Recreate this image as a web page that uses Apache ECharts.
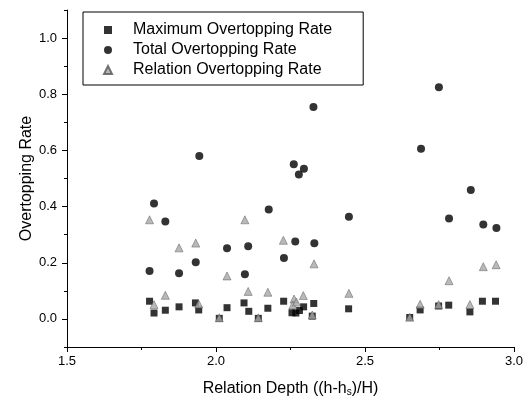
<!DOCTYPE html>
<html>
<head>
<meta charset="utf-8">
<script src="https://cdn.jsdelivr.net/npm/echarts@6/dist/echarts.min.js"></script>
<style>html,body{margin:0;padding:0;background:#fff;}#c{width:527px;height:401px;}</style>
</head>
<body>
<div id="c"></div>
<script>
const seriesNames = ['Maximum Overtopping Rate', 'Total Overtopping Rate', 'Relation Overtopping Rate'];

const maxX = [1.777, 1.792, 1.830, 1.876, 1.931, 1.942, 2.011, 2.037, 2.094, 2.110, 2.142, 2.174, 2.227, 2.255, 2.268, 2.280, 2.294, 2.328, 2.323, 2.445, 2.650, 2.685, 2.747, 2.781, 2.852, 2.894, 2.938];
const maxY = [0.063, 0.021, 0.031, 0.043, 0.057, 0.032, 0.002, 0.040, 0.057, 0.027, 0.002, 0.038, 0.063, 0.022, 0.021, 0.030, 0.043, 0.055, 0.010, 0.036, 0.005, 0.032, 0.046, 0.049, 0.025, 0.063, 0.063];

const totX = [1.777, 1.792, 1.830, 1.876, 1.932, 1.944, 2.037, 2.097, 2.108, 2.177, 2.228, 2.261, 2.266, 2.278, 2.295, 2.327, 2.330, 2.446, 2.688, 2.748, 2.782, 2.855, 2.897, 2.941];
const totY = [0.171, 0.411, 0.347, 0.163, 0.202, 0.580, 0.252, 0.159, 0.259, 0.390, 0.217, 0.551, 0.276, 0.514, 0.535, 0.755, 0.269, 0.364, 0.606, 0.825, 0.358, 0.459, 0.336, 0.324];

const relX = [1.777, 1.792, 1.830, 1.876, 1.932, 1.942, 2.011, 2.037, 2.097, 2.108, 2.142, 2.174, 2.226, 2.262, 2.258, 2.270, 2.293, 2.329, 2.323, 2.446, 2.650, 2.685, 2.747, 2.782, 2.852, 2.897, 2.940];
const relY = [0.353, 0.051, 0.084, 0.253, 0.270, 0.053, 0.004, 0.153, 0.353, 0.098, 0.004, 0.095, 0.280, 0.071, 0.050, 0.060, 0.083, 0.196, 0.014, 0.091, 0.006, 0.052, 0.051, 0.136, 0.051, 0.186, 0.193];

const yMajorTicks = [0.0, 0.2, 0.4, 0.6, 0.8, 1.0];
const yMin = -0.1;

function pairs(xs, ys) { return xs.map((x, i) => [x, ys[i]]); }

const FONT = "'Liberation Sans', Arial, sans-serif";
const chart = echarts.init(document.getElementById('c'), null, {renderer: 'canvas'});
chart.setOption({
  animation: false,
  backgroundColor: '#fff',
  textStyle: {fontFamily: FONT, color: '#000'},
  grid: {left: 67, top: 10, right: 13, bottom: 54, containLabel: false, outerBoundsMode: 'none'},
  legend: {
    orient: 'vertical',
    left: 83, top: 12,
    padding: [9, 31, 6, 20],
    itemGap: 2,
    itemWidth: 8, itemHeight: 8,
    borderColor: '#000', borderWidth: 1,
    textStyle: {fontFamily: FONT, fontSize: 16, color: '#000', padding: [0, 0, 0, 16], lineHeight: 18},
    data: seriesNames
  },
  xAxis: {
    type: 'value', min: 1.5, max: 3.0, interval: 0.5,
    name: 'Relation Depth ((h-h{sub|s})/H)',
    nameLocation: 'middle', nameGap: 34, nameMoveOverlap: false,
    nameTextStyle: {fontFamily: FONT, fontSize: 16, color: '#000',
      rich: {sub: {fontFamily: FONT, fontSize: 10, verticalAlign: 'bottom', padding: [5, 0, 0, 0]}}},
    axisLine: {show: true, onZero: false, lineStyle: {color: '#000', width: 1}},
    axisTick: {show: true, length: 5, lineStyle: {color: '#000'}},
    minorTick: {show: true, splitNumber: 2, length: 3, lineStyle: {color: '#000'}},
    axisLabel: {fontFamily: FONT, fontSize: 13, color: '#000', margin: 8, formatter: v => v.toFixed(1)},
    splitLine: {show: false}
  },
  yAxis: [{
    type: 'value', min: yMin, max: 1.1,
    name: 'Overtopping Rate',
    nameLocation: 'middle', nameGap: 32, nameMoveOverlap: false,
    nameTextStyle: {fontFamily: FONT, fontSize: 16, color: '#000'},
    axisLine: {show: true, onZero: false, lineStyle: {color: '#000', width: 1}},
    axisTick: {show: true, length: 5, customValues: yMajorTicks, lineStyle: {color: '#000'}},
    axisLabel: {fontFamily: FONT, fontSize: 13, color: '#000', margin: 10, customValues: yMajorTicks, formatter: v => v.toFixed(1)},
    splitLine: {show: false}
  }, {
    type: 'value', min: yMin, max: 1.1, interval: 0.1, position: 'left',
    axisLine: {show: false, onZero: false},
    axisTick: {show: true, length: 3, lineStyle: {color: '#000'}},
    axisLabel: {show: false},
    splitLine: {show: false}
  }],
  series: [
    {name: seriesNames[0], type: 'scatter', symbol: 'rect', symbolSize: 7,
     itemStyle: {color: '#000'}, data: pairs(maxX, maxY),
     markLine: {silent: true, symbol: 'none', label: {show: false},
       lineStyle: {color: '#000', width: 1, type: 'solid'}, data: [{yAxis: yMin}]}},
    {name: seriesNames[1], type: 'scatter', symbol: 'circle', symbolSize: 8,
     itemStyle: {color: '#000'}, data: pairs(totX, totY)},
    {name: seriesNames[2], type: 'scatter', symbol: 'triangle', symbolSize: 8,
     itemStyle: {color: '#a8a8a8', borderColor: '#555', borderWidth: 0.6}, data: pairs(relX, relY)}
  ]
});
</script>
</body>
</html>
